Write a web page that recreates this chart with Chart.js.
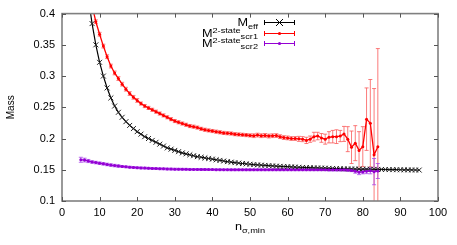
<!DOCTYPE html>
<html lang="en">
<head>
<meta charset="UTF-8">
<title>Mass vs n_sigma,min</title>
<script src="https://cdn.jsdelivr.net/npm/chart.js"></script>
<style>
  body { margin: 0; background: white; }
  .wrap { width: 457px; height: 245px; }
</style>
</head>
<body>
<div class="wrap"><canvas id="chart" width="457" height="245"></canvas></div>
<script>
// values, one per integer n
const effStart = 7;
const effMass = [
  0.425, 0.384, 0.350, 0.322, 0.300, 0.281, 0.265, 0.252, 0.242, 0.234,
  0.227, 0.221, 0.216, 0.211, 0.207, 0.203, 0.200, 0.197, 0.194, 0.191,
  0.188, 0.185, 0.183, 0.181, 0.179, 0.177, 0.1755, 0.174, 0.1725, 0.171,
  0.170, 0.169, 0.168, 0.167, 0.166, 0.165, 0.164, 0.163, 0.1622, 0.1614,
  0.1607, 0.160, 0.1594, 0.1588, 0.1583, 0.1578, 0.1574, 0.157, 0.1566, 0.1562,
  0.1558, 0.1555, 0.1552, 0.1549, 0.1546, 0.1543, 0.154, 0.1537, 0.1535, 0.1533,
  0.1531, 0.1529, 0.1527, 0.1525, 0.1523, 0.1521, 0.1519, 0.1517, 0.1515, 0.1514,
  0.1513, 0.1512, 0.1511, 0.151, 0.1509, 0.1508, 0.1507, 0.1506, 0.1505, 0.1504,
  0.1503, 0.1502, 0.1501, 0.150, 0.1499, 0.1498, 0.1497, 0.1496, 0.1495
];

const scr1Start = 8;
const scr1Mass = [
  0.413, 0.387, 0.367, 0.348, 0.331, 0.316, 0.305, 0.296, 0.287, 0.279,
  0.272, 0.266, 0.261, 0.256, 0.252, 0.249, 0.246, 0.243, 0.240, 0.237,
  0.234, 0.231, 0.228, 0.226, 0.224, 0.222, 0.220, 0.219, 0.2175, 0.2155,
  0.214, 0.213, 0.212, 0.211, 0.210, 0.209, 0.2085, 0.208, 0.207, 0.2065,
  0.206, 0.2055, 0.205, 0.2045, 0.2055, 0.2045, 0.205, 0.204, 0.2045, 0.2047,
  0.203, 0.2015, 0.201, 0.200, 0.200, 0.1995, 0.199, 0.197, 0.199, 0.203,
  0.204, 0.201, 0.199, 0.202, 0.203, 0.203, 0.204, 0.2074, 0.199, 0.186,
  0.1926, 0.181, 0.187, 0.231, 0.2245, 0.174, 0.187
];
const scr1Err = [
  0.003, 0.003, 0.003, 0.003, 0.003, 0.003, 0.003, 0.003, 0.003, 0.003,
  0.003, 0.003, 0.003, 0.0025, 0.0025, 0.0025, 0.0025, 0.0025, 0.0025, 0.0025,
  0.0025, 0.0025, 0.0025, 0.0025, 0.0025, 0.0025, 0.0025, 0.0025, 0.0025, 0.0025,
  0.0025, 0.0025, 0.0025, 0.0025, 0.0025, 0.0025, 0.0025, 0.0025, 0.0025, 0.0025,
  0.0025, 0.0025, 0.0025, 0.003, 0.003, 0.003, 0.003, 0.003, 0.003, 0.003,
  0.003, 0.003, 0.003, 0.003, 0.003, 0.004, 0.004, 0.005, 0.005, 0.007,
  0.006, 0.007, 0.008, 0.009, 0.010, 0.011, 0.009, 0.012, 0.020, 0.026,
  0.028, 0.030, 0.032, 0.050, 0.070, 0.106, 0.157
];

const scr2Start = 5;
const scr2Mass = [
  0.166, 0.1655, 0.164, 0.1625, 0.1615, 0.1605, 0.1595, 0.1585, 0.1575, 0.1567,
  0.156, 0.1553, 0.1547, 0.1542, 0.1537, 0.1533, 0.153, 0.1527, 0.1524, 0.1521,
  0.1519, 0.1517, 0.1515, 0.1513, 0.1511, 0.151, 0.1509, 0.1508, 0.1507, 0.1506,
  0.1505, 0.1505, 0.1504, 0.1504, 0.1503, 0.1503, 0.1502, 0.1502, 0.1501, 0.1501,
  0.150, 0.150, 0.150, 0.150, 0.150, 0.150, 0.150, 0.150, 0.150, 0.150,
  0.150, 0.150, 0.150, 0.150, 0.150, 0.150, 0.150, 0.150, 0.150, 0.150,
  0.150, 0.150, 0.150, 0.150, 0.150, 0.150, 0.150, 0.150, 0.150, 0.150,
  0.150, 0.1495, 0.149, 0.1475, 0.1462, 0.1465, 0.1478, 0.1485, 0.147, 0.148
];
const scr2Err = [
  0.004, 0.003, 0.0025, 0.002, 0.002, 0.002, 0.002, 0.002, 0.002, 0.002,
  0.002, 0.0015, 0.0015, 0.0015, 0.0015, 0.0015, 0.0015, 0.0015, 0.0015, 0.0015,
  0.0015, 0.0015, 0.0015, 0.0015, 0.0015, 0.0015, 0.0015, 0.0015, 0.0015, 0.0015,
  0.0015, 0.0015, 0.0015, 0.0015, 0.0015, 0.0015, 0.0015, 0.0015, 0.0015, 0.0015,
  0.0015, 0.0015, 0.0015, 0.0015, 0.0015, 0.0015, 0.0015, 0.0015, 0.0015, 0.0015,
  0.0015, 0.0015, 0.0015, 0.0015, 0.0015, 0.0015, 0.0015, 0.0015, 0.0015, 0.0015,
  0.0015, 0.0015, 0.0015, 0.0015, 0.0015, 0.0015, 0.002, 0.002, 0.002, 0.002,
  0.002, 0.002, 0.002, 0.003, 0.004, 0.003, 0.004, 0.005, 0.021, 0.012
];

const xTicks = [0, 10, 20, 30, 40, 50, 60, 70, 80, 90, 100];
const xTickLabels = ["0", "10", "20", "30", "40", "50", "60", "70", "80", "90", "100"];
const yTicks = [0.1, 0.15, 0.2, 0.25, 0.3, 0.35, 0.4];
const yTickLabels = ["0.1", "0.15", "0.2", "0.25", "0.3", "0.35", "0.4"];

const FONT = "'Liberation Sans', Arial, Helvetica, sans-serif";
const RED = "#ff0000";
const PURPLE = "#9400d3";

function toPoints(start, vals) {
  return vals.map((v, i) => ({ x: start + i, y: v }));
}

// text with sub/superscript parts, right aligned, slightly stretched like the original
function drawRich(ctx, parts, rightX, baseY, stretch) {
  ctx.save();
  let w = 0;
  parts.forEach(p => { ctx.font = p.size + "px " + FONT; w += ctx.measureText(p.t).width; });
  ctx.translate(rightX - w * stretch, baseY);
  ctx.scale(stretch, 1);
  let x = 0;
  ctx.fillStyle = "#000";
  ctx.textBaseline = "alphabetic";
  ctx.textAlign = "left";
  parts.forEach(p => {
    ctx.font = p.size + "px " + FONT;
    ctx.fillText(p.t, x, p.dy);
    x += ctx.measureText(p.t).width;
  });
  ctx.restore();
}

const errorBars = {
  id: "errorBars",
  beforeDatasetsDraw(chart) {
    const { ctx, chartArea, scales } = chart;
    ctx.save();
    ctx.beginPath();
    ctx.rect(chartArea.left, chartArea.top, chartArea.right - chartArea.left, chartArea.bottom - chartArea.top);
    ctx.clip();
    chart.data.datasets.forEach(ds => {
      if (!ds.errs) return;
      ctx.strokeStyle = ds.errColor;
      ctx.lineWidth = 1;
      ds.data.forEach((pt, i) => {
        const e = ds.errs[i];
        const x = scales.x.getPixelForValue(pt.x);
        const y1 = scales.y.getPixelForValue(pt.y - e);
        const y2 = scales.y.getPixelForValue(pt.y + e);
        ctx.beginPath();
        ctx.moveTo(x, y1); ctx.lineTo(x, y2);
        ctx.moveTo(x - 2, y1); ctx.lineTo(x + 2, y1);
        ctx.moveTo(x - 2, y2); ctx.lineTo(x + 2, y2);
        ctx.stroke();
      });
    });
    ctx.restore();
  }
};

const frame = {
  id: "frame",
  afterDraw(chart) {
    const { ctx, chartArea: a, scales } = chart;
    ctx.save();
    ctx.strokeStyle = "#808080";
    ctx.lineWidth = 1.6;
    ctx.strokeRect(a.left, a.top, a.right - a.left, a.bottom - a.top);
    ctx.lineWidth = 1;
    ctx.strokeStyle = "#555";
    ctx.beginPath();
    xTicks.forEach(v => {
      const x = Math.round(scales.x.getPixelForValue(v)) + 0.5;
      ctx.moveTo(x, a.bottom); ctx.lineTo(x, a.bottom - 4);
      ctx.moveTo(x, a.top); ctx.lineTo(x, a.top + 4);
    });
    yTicks.forEach(v => {
      const y = Math.round(scales.y.getPixelForValue(v)) + 0.5;
      ctx.moveTo(a.left, y); ctx.lineTo(a.left + 4, y);
      ctx.moveTo(a.right, y); ctx.lineTo(a.right - 4, y);
    });
    ctx.stroke();

    // legend, gnuplot style
    const rightText = 258, x0 = 264, x1 = 295, xm = (x0 + x1) / 2;
    const rows = [
      { y: 22, color: "#000", mark: "x", base: 26,
        parts: [{ t: "M", size: 11, dy: 0 }, { t: "eff", size: 8, dy: 2.5 }] },
      { y: 32.5, color: RED, mark: "dot", base: 36.5,
        parts: [{ t: "M", size: 11, dy: 0 }, { t: "2-state", size: 8, dy: -4 }, { t: "scr1", size: 8, dy: 2 }] },
      { y: 43, color: PURPLE, mark: "dot", base: 46.8,
        parts: [{ t: "M", size: 11, dy: 0 }, { t: "2-state", size: 8, dy: -4 }, { t: "scr2", size: 8, dy: 2.5 }] }
    ];
    rows.forEach(r => {
      drawRich(ctx, r.parts, rightText, r.base, 1.15);
      ctx.strokeStyle = r.color;
      ctx.fillStyle = r.color;
      ctx.lineWidth = 1;
      const y = Math.round(r.y) + 0.5;
      ctx.beginPath();
      ctx.moveTo(x0, y); ctx.lineTo(x1, y);
      ctx.moveTo(x0 + 0.5, y - 2.5); ctx.lineTo(x0 + 0.5, y + 2.5);
      ctx.moveTo(x1 - 0.5, y - 2.5); ctx.lineTo(x1 - 0.5, y + 2.5);
      ctx.stroke();
      if (r.mark === "x") {
        ctx.beginPath();
        ctx.moveTo(xm - 3.5, y - 3.5); ctx.lineTo(xm + 3.5, y + 3.5);
        ctx.moveTo(xm - 3.5, y + 3.5); ctx.lineTo(xm + 3.5, y - 3.5);
        ctx.stroke();
      } else {
        ctx.beginPath();
        ctx.arc(xm, y, 1.6, 0, Math.PI * 2);
        ctx.fill();
      }
    });

    // x axis title n_{sigma,min}
    drawRich(ctx, [{ t: "n", size: 11, dy: 0 }, { t: "σ,min", size: 8, dy: 3 }], 265, 230, 1.15);
    ctx.restore();
  }
};

const ctx = document.getElementById("chart").getContext("2d");
new Chart(ctx, {
  type: "line",
  data: {
    datasets: [
      {
        label: "Meff",
        data: toPoints(effStart, effMass),
        borderColor: "#000",
        borderWidth: 1.2,
        pointStyle: "crossRot",
        pointRadius: 3.5,
        pointBorderColor: "#222",
        pointBorderWidth: 1,
        tension: 0,
        order: 3
      },
      {
        label: "scr1",
        data: toPoints(scr1Start, scr1Mass),
        errs: scr1Err,
        errColor: "rgba(250,90,90,0.8)",
        borderColor: RED,
        borderWidth: 1.3,
        pointStyle: "circle",
        pointRadius: 1.5,
        pointBackgroundColor: RED,
        pointBorderWidth: 0,
        tension: 0,
        order: 2
      },
      {
        label: "scr2",
        data: toPoints(scr2Start, scr2Mass),
        errs: scr2Err,
        errColor: "rgba(170,70,235,0.8)",
        borderColor: PURPLE,
        borderWidth: 1.3,
        pointStyle: "circle",
        pointRadius: 1.5,
        pointBackgroundColor: PURPLE,
        pointBorderWidth: 0,
        tension: 0,
        order: 1
      }
    ]
  },
  options: {
    responsive: false,
    animation: false,
    layout: { padding: { left: 0, right: 19, top: 13, bottom: 0 } },
    plugins: {
      legend: { display: false },
      tooltip: { enabled: false }
    },
    scales: {
      x: {
        type: "linear",
        min: 0,
        max: 100,
        afterBuildTicks: s => { s.ticks = xTicks.map(v => ({ value: v })); },
        afterFit: s => { s.height = 44; },
        ticks: {
          padding: 5,
          color: "#000",
          font: { family: FONT, size: 11 },
          maxRotation: 0,
          callback: (v, i) => xTickLabels[i]
        },
        grid: { display: false, drawTicks: false },
        border: { display: false }
      },
      y: {
        type: "linear",
        min: 0.1,
        max: 0.4,
        afterBuildTicks: s => { s.ticks = yTicks.map(v => ({ value: v })); },
        afterFit: s => { s.width = 62; },
        ticks: {
          padding: 7,
          color: "#000",
          font: { family: FONT, size: 11 },
          callback: (v, i) => yTickLabels[i]
        },
        grid: { display: false, drawTicks: false },
        border: { display: false },
        title: {
          display: true,
          text: "Mass",
          color: "#000",
          font: { family: FONT, size: 10 },
          padding: { top: 5, bottom: 0 }
        }
      }
    }
  },
  plugins: [errorBars, frame]
});
</script>
</body>
</html>
